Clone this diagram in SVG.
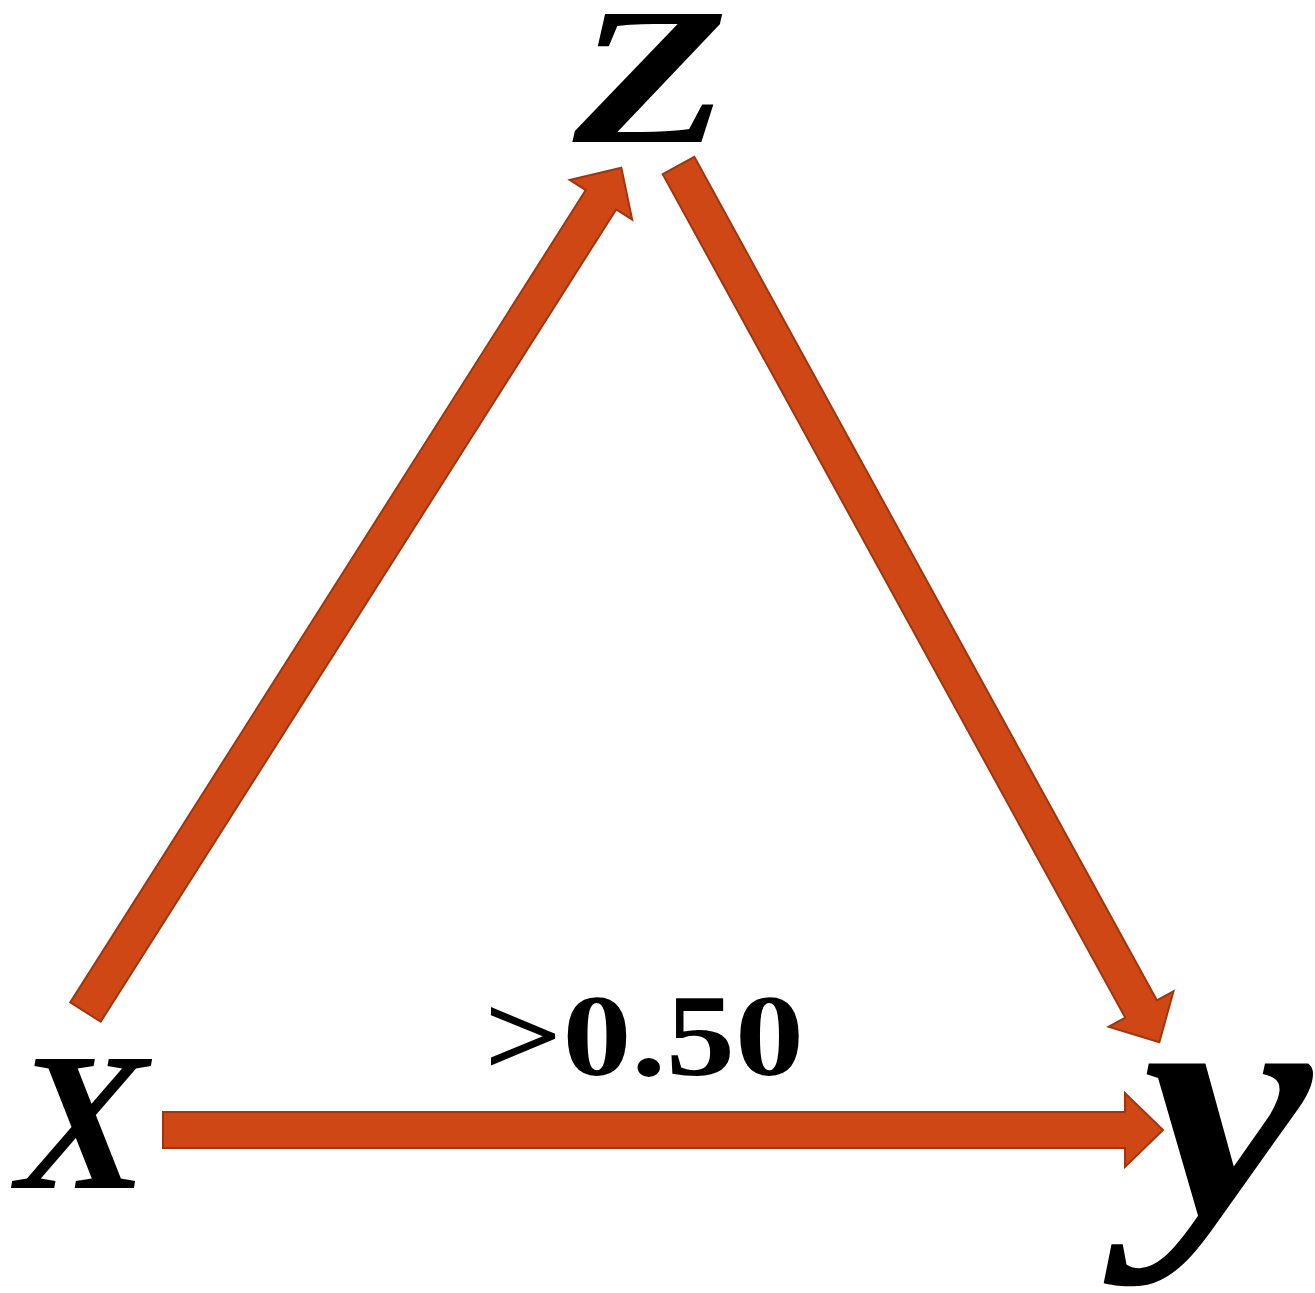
<svg xmlns="http://www.w3.org/2000/svg" width="1315" height="1293" viewBox="0 0 1315 1293">
  <style>
    .arrow { fill: #D04716; stroke: #A0360F; stroke-width: 2; stroke-linejoin: miter; }
    .var { font-family: "Liberation Serif", "Times New Roman", serif; font-weight: bold; font-style: italic; fill: #000; }
    .lbl { font-family: "Liberation Serif", "Times New Roman", serif; font-weight: bold; fill: #000; }
  </style>
  <defs>
    <polygon id="arr" points="0,-18 962,-18 962,-37 1000,0 962,37 962,18 0,18"/>
  </defs>
  <g id="connectors">
    <use href="#arr" class="arrow" transform="translate(85.5,1012) rotate(-57.6)"/>
    <use href="#arr" class="arrow" transform="translate(678.5,165.5) rotate(61.26)"/>
    <use href="#arr" class="arrow" transform="translate(163,1130)"/>
  </g>
  <g id="node-z">
    <text class="var" x="0" y="0" font-size="196" transform="translate(573,142) scale(1.3,1)">Z</text>
  </g>
  <g id="node-x">
    <text class="var" x="16" y="1188" font-size="198">X</text>
  </g>
  <g id="node-y">
    <text class="var" x="0" y="0" font-size="330" transform="translate(1142,1215) scale(1.16,1)">y</text>
  </g>
  <g id="label">
    <text class="lbl" x="484" y="1075" font-size="117" textLength="320" lengthAdjust="spacingAndGlyphs">&gt;0.50</text>
  </g>
</svg>
